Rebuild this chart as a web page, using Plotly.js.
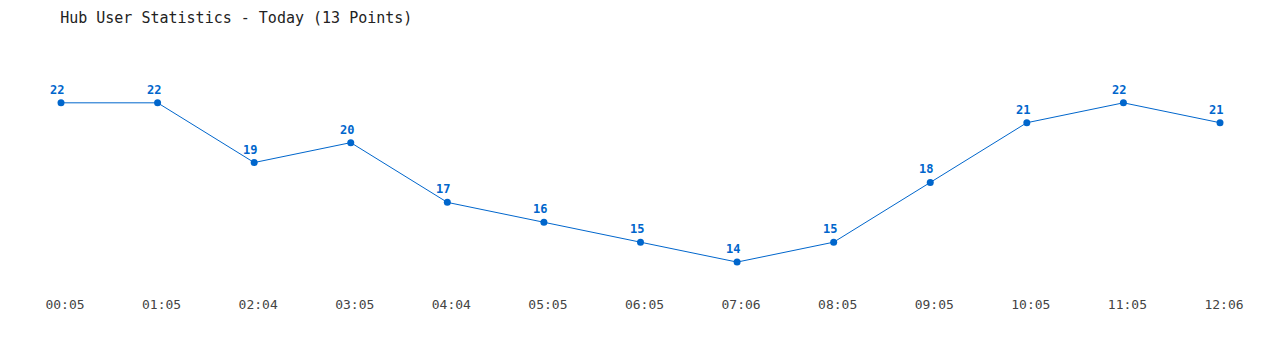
<!DOCTYPE html>
<html>
<head>
<meta charset="utf-8">
<script src="https://cdn.plot.ly/plotly-3.0.1.min.js"></script>
<style>html,body{margin:0;padding:0;background:#fff;}#chart{width:1280px;height:350px;}</style>
</head>
<body>
<div id="chart"></div>
<script>
const times = ["00:05","01:05","02:04","03:05","04:04","05:05","06:05","07:06","08:05","09:05","10:05","11:05","12:06"];
const users = [22,22,19,20,17,16,15,14,15,18,21,22,21];
const titleText = "Hub User Statistics - Today (13 Points)";
const lineColor = "#0066cc";

const idx = times.map((_, i) => i);
const trace = {
  x: idx,
  y: users,
  type: "scatter",
  mode: "lines+markers",
  line: {color: lineColor, width: 1},
  marker: {color: lineColor, size: 7},
  cliponaxis: false,
  hoverinfo: "x+y"
};
const labels = idx.map(i => ({
  x: i, y: users[i], xref: "x", yref: "y",
  text: String(users[i]), showarrow: false,
  xshift: -4, yshift: 13,
  font: {family: "DejaVu Sans Mono, monospace", size: 12, color: lineColor, weight: "bold"}
}));
const layout = {
  width: 1280, height: 350,
  margin: {l: 61, r: 60, t: 63, b: 68},
  paper_bgcolor: "#fff", plot_bgcolor: "#fff",
  showlegend: false,
  annotations: labels,
  title: {text: titleText, x: 0.047, xanchor: "left", y: 0.95, yanchor: "middle",
          font: {family: "DejaVu Sans Mono, monospace", size: 15, color: "#222"}},
  xaxis: {range: [0, 12], tickmode: "array", tickvals: idx, ticktext: times,
          showgrid: false, zeroline: false, showline: false, ticks: "",
          ticklabelstandoff: 13, ticklabelshift: 4,
          tickfont: {family: "DejaVu Sans Mono, monospace", size: 13, color: "#444"}},
  yaxis: {range: [13, 24], showgrid: false, zeroline: false, showline: false,
          showticklabels: false, ticks: ""}
};
Plotly.newPlot("chart", [trace], layout, {displayModeBar: false, staticPlot: true});
</script>
</body>
</html>
